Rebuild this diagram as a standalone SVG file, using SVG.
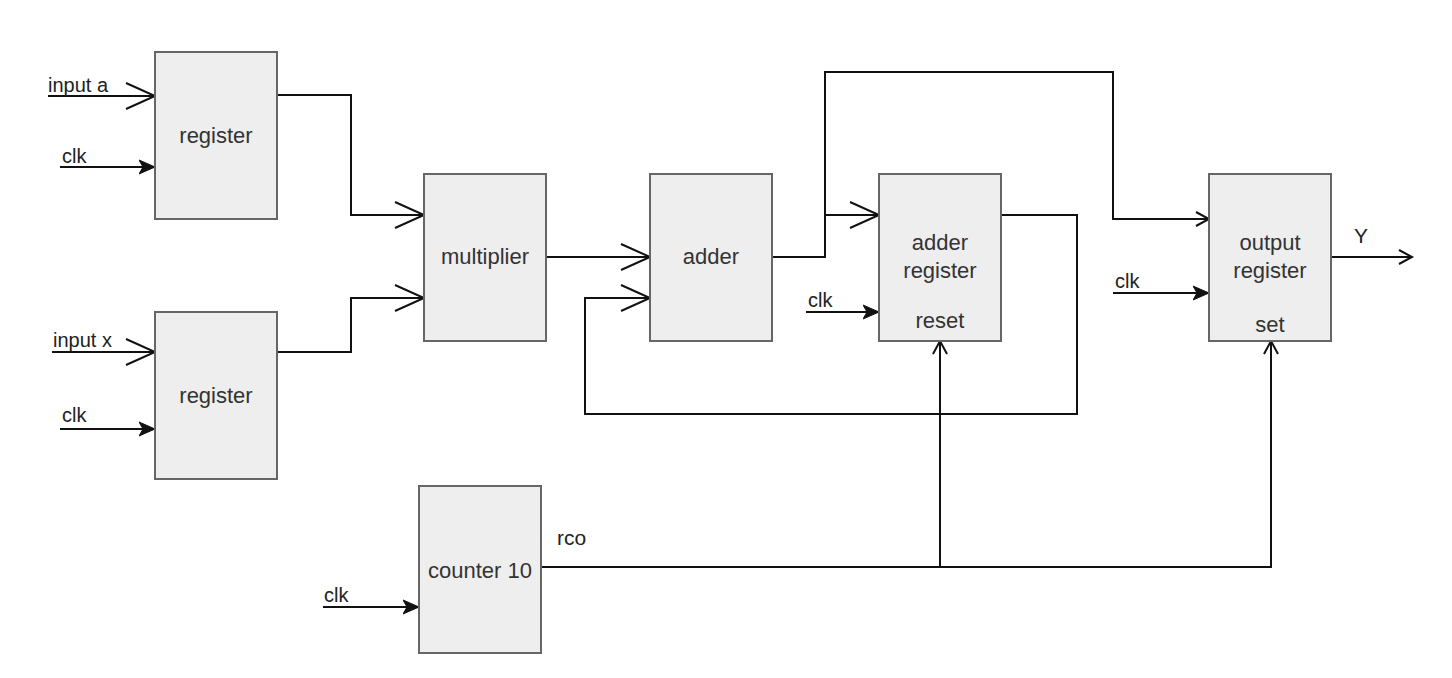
<svg xmlns="http://www.w3.org/2000/svg" width="1452" height="678" viewBox="0 0 1452 678">
<style>
.box{fill:#eeeeee;stroke:#666666;stroke-width:2}
.lbl{font-family:"Liberation Sans",Arial,sans-serif;font-size:22px;fill:#333333;text-anchor:middle}
.el{font-family:"Liberation Sans",Arial,sans-serif;font-size:20px;fill:#222222}
.w{fill:none;stroke:#111111;stroke-width:2}
</style>
<defs>
<marker id="ob" markerUnits="userSpaceOnUse" markerWidth="34" markerHeight="30" refX="30" refY="14" orient="auto"><path d="M1,1 L30,14 L1,27" fill="none" stroke="#111111" stroke-width="2"/></marker>
<marker id="os" markerUnits="userSpaceOnUse" markerWidth="18" markerHeight="18" refX="14" refY="8" orient="auto"><path d="M1,1 L14,8 L1,15" fill="none" stroke="#111111" stroke-width="2"/></marker>
<marker id="fc" markerUnits="userSpaceOnUse" markerWidth="18" markerHeight="18" refX="16" refY="8" orient="auto"><path d="M0,1 L16,8 L0,15 L4,8 z" fill="#111111" stroke="#111111" stroke-width="1"/></marker>
</defs>
<rect width="1452" height="678" fill="#ffffff"/>
<g id="connectors">
<path class="w" d="M48,96 H155" marker-end="url(#ob)"/>
<path class="w" d="M60,167 H155" marker-end="url(#fc)"/>
<path class="w" d="M52,352 H155" marker-end="url(#ob)"/>
<path class="w" d="M60,429 H155" marker-end="url(#fc)"/>
<path class="w" d="M277,95 H351 V215 H424" marker-end="url(#ob)"/>
<path class="w" d="M277,352 H351 V298 H424" marker-end="url(#ob)"/>
<path class="w" d="M546,257 H650" marker-end="url(#ob)"/>
<path class="w" d="M772,257 H825 V215 H879" marker-end="url(#ob)"/>
<path class="w" d="M825,215 V72 H1113 V219 H1209" marker-end="url(#os)"/>
<path class="w" d="M1001,215 H1077 V414 H585 V298 H650" marker-end="url(#ob)"/>
<path class="w" d="M806,312 H879" marker-end="url(#fc)"/>
<path class="w" d="M541,567 H1271 V341" marker-end="url(#os)"/>
<path class="w" d="M940,567 V341" marker-end="url(#os)"/>
<path class="w" d="M1113,293 H1209" marker-end="url(#fc)"/>
<path class="w" d="M1331,257 H1412" marker-end="url(#os)"/>
<path class="w" d="M323,607 H419" marker-end="url(#fc)"/>
<text class="el" x="48" y="92">input a</text>
<text class="el" x="62" y="163">clk</text>
<text class="el" x="53" y="347">input x</text>
<text class="el" x="62" y="422">clk</text>
<text class="el" x="808" y="307">clk</text>
<text class="el" x="1115" y="288">clk</text>
<text class="el" x="324" y="602">clk</text>
<text class="el" x="557" y="545" style="font-size:21px">rco</text>
<text class="el" x="1354" y="243" style="font-size:21px">Y</text>
</g>
<g id="reg1"><rect class="box" x="155" y="52" width="122" height="167"/><text class="lbl" x="216" y="143">register</text></g>
<g id="reg2"><rect class="box" x="155" y="312" width="122" height="167"/><text class="lbl" x="216" y="403">register</text></g>
<g id="multiplier"><rect class="box" x="424" y="174" width="122" height="167"/><text class="lbl" x="485" y="264">multiplier</text></g>
<g id="adder"><rect class="box" x="650" y="174" width="122" height="167"/><text class="lbl" x="711" y="264">adder</text></g>
<g id="adderreg"><rect class="box" x="879" y="174" width="122" height="167"/><text class="lbl" x="940" y="250">adder</text><text class="lbl" x="940" y="278">register</text><text class="lbl" x="940" y="328">reset</text></g>
<g id="outreg"><rect class="box" x="1209" y="174" width="122" height="167"/><text class="lbl" x="1270" y="250">output</text><text class="lbl" x="1270" y="278">register</text><text class="lbl" x="1270" y="332">set</text></g>
<g id="counter"><rect class="box" x="419" y="486" width="122" height="167"/><text class="lbl" x="480" y="578">counter 10</text></g>
</svg>
